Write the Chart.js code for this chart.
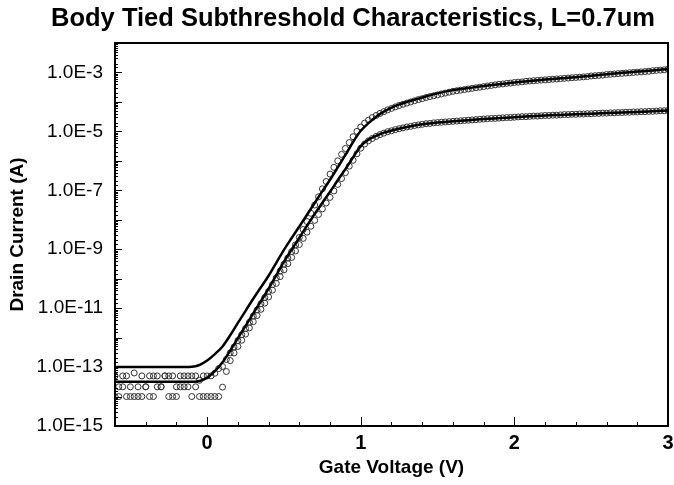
<!DOCTYPE html>
<html>
<head>
<meta charset="utf-8">
<title>Body Tied Subthreshold Characteristics</title>
<script src="https://cdn.jsdelivr.net/npm/chart.js@4.4.0/dist/chart.umd.min.js"></script>
<style>
  html, body { margin: 0; padding: 0; background: #fff; }
</style>
</head>
<body>
<canvas id="idvg" width="674" height="485"></canvas>
<script>
// gate voltage sweep of the measured points (V)
const vgMeasured = [
  -0.6, -0.575, -0.55, -0.525, -0.5, -0.475, -0.45, -0.425,
  -0.4, -0.375, -0.35, -0.325, -0.3, -0.275, -0.25, -0.225,
  -0.2, -0.175, -0.15, -0.125, -0.1, -0.075, -0.05, -0.025,
  0, 0.025, 0.05, 0.075, 0.1, 0.125, 0.15, 0.175,
  0.2, 0.225, 0.25, 0.275, 0.3, 0.325, 0.35, 0.375,
  0.4, 0.425, 0.45, 0.475, 0.5, 0.525, 0.55, 0.575,
  0.6, 0.625, 0.65, 0.675, 0.7, 0.725, 0.75, 0.775,
  0.8, 0.825, 0.85, 0.875, 0.9, 0.925, 0.95, 0.975,
  1.0, 1.025, 1.05, 1.075, 1.1, 1.125, 1.15, 1.175,
  1.2, 1.225, 1.25, 1.275, 1.3, 1.325, 1.35, 1.375,
  1.4, 1.425, 1.45, 1.475, 1.5, 1.525, 1.55, 1.575,
  1.6, 1.625, 1.65, 1.675, 1.7, 1.725, 1.75, 1.775,
  1.8, 1.825, 1.85, 1.875, 1.9, 1.925, 1.95, 1.975,
  2.0, 2.025, 2.05, 2.075, 2.1, 2.125, 2.15, 2.175,
  2.2, 2.225, 2.25, 2.275, 2.3, 2.325, 2.35, 2.375,
  2.4, 2.425, 2.45, 2.475, 2.5, 2.525, 2.55, 2.575,
  2.6, 2.625, 2.65, 2.675, 2.7, 2.725, 2.75, 2.775,
  2.8, 2.825, 2.85, 2.875, 2.9, 2.925, 2.95, 2.975,
  3.0
];

// measured drain current, log10(A) - high drain bias
const measHighLog = [
  -13.30, -13.67, -13.30, -13.30, -13.67, -13.20, -13.67, -13.30,
  -13.67, -13.30, -13.30, -13.30, -13.67, -13.30, -13.30, -13.30,
  -13.67, -13.30, -13.30, -13.67, -13.30, -13.67, -13.45, -13.30,
  -13.30, -13.30, -13.21, -13.05, -12.98, -12.74, -12.52, -12.32,
  -12.10, -11.90, -11.69, -11.48, -11.27, -11.06, -10.85, -10.64,
  -10.43, -10.20, -9.97, -9.74, -9.51, -9.30, -9.08, -8.85,
  -8.60, -8.33, -8.06, -7.78, -7.50, -7.22, -6.95, -6.70,
  -6.45, -6.22, -6.00, -5.78, -5.58, -5.38, -5.18, -5.00,
  -4.85, -4.72, -4.62, -4.53, -4.46, -4.39, -4.33, -4.27,
  -4.22, -4.17, -4.12, -4.08, -4.04, -4.00, -3.96, -3.92,
  -3.89, -3.85, -3.82, -3.79, -3.76, -3.73, -3.70, -3.67,
  -3.64, -3.62, -3.60, -3.58, -3.56, -3.54, -3.52, -3.50,
  -3.48, -3.46, -3.44, -3.42, -3.40, -3.39, -3.37, -3.36,
  -3.34, -3.33, -3.32, -3.30, -3.29, -3.28, -3.27, -3.26,
  -3.25, -3.24, -3.23, -3.22, -3.21, -3.20, -3.19, -3.18,
  -3.17, -3.16, -3.15, -3.14, -3.12, -3.11, -3.10, -3.09,
  -3.07, -3.06, -3.05, -3.04, -3.03, -3.02, -3.01, -3.00,
  -2.99, -2.98, -2.97, -2.96, -2.94, -2.93, -2.92, -2.91,
  -2.89
];

// measured drain current, log10(A) - low drain bias
const measLowLog = [
  -14.00, -14.00, -13.67, -14.00, -14.00, -14.00, -14.00, -14.00,
  -13.67, -14.00, -14.00, -13.67, -13.67, -13.30, -14.00, -14.00,
  -14.00, -13.67, -13.67, -13.30, -14.00, -13.30, -14.00, -14.00,
  -14.00, -14.00, -14.00, -14.00, -13.68, -13.15, -12.78, -12.52,
  -12.30, -12.09, -11.88, -11.67, -11.46, -11.25, -11.04, -10.83,
  -10.62, -10.39, -10.16, -9.93, -9.70, -9.49, -9.28, -9.06,
  -8.84, -8.63, -8.42, -8.22, -8.02, -7.82, -7.63, -7.43,
  -7.24, -7.02, -6.80, -6.60, -6.40, -6.18, -5.98, -5.76,
  -5.57, -5.43, -5.32, -5.24, -5.17, -5.11, -5.06, -5.01,
  -4.98, -4.94, -4.91, -4.88, -4.85, -4.83, -4.80, -4.78,
  -4.76, -4.74, -4.73, -4.71, -4.70, -4.69, -4.68, -4.67,
  -4.66, -4.65, -4.64, -4.63, -4.62, -4.61, -4.60, -4.59,
  -4.58, -4.57, -4.56, -4.56, -4.55, -4.54, -4.53, -4.53,
  -4.52, -4.51, -4.50, -4.50, -4.49, -4.48, -4.48, -4.47,
  -4.46, -4.46, -4.45, -4.45, -4.44, -4.43, -4.43, -4.42,
  -4.42, -4.41, -4.41, -4.40, -4.40, -4.39, -4.39, -4.38,
  -4.38, -4.37, -4.37, -4.36, -4.36, -4.35, -4.35, -4.34,
  -4.34, -4.33, -4.33, -4.32, -4.32, -4.31, -4.30, -4.30,
  -4.29
];

// simulated curves (solid lines)
const vgModel = [
  -0.6, -0.4, -0.2, -0.1, -0.05, 0,
  0.05, 0.1, 0.15, 0.2, 0.25, 0.3, 0.35, 0.4, 0.45, 0.5, 0.55, 0.6,
  0.65, 0.7, 0.75, 0.8, 0.85, 0.9, 0.95, 1.0, 1.05, 1.1, 1.15, 1.2,
  1.3, 1.4, 1.5, 1.6, 1.7, 1.8, 1.9, 2.0, 2.1,
  2.2, 2.3, 2.4, 2.5, 2.6, 2.7, 2.8, 2.9, 3.0
];
const modelHighLog = [
  -13.00, -13.00, -13.00, -12.99, -12.93, -12.78,
  -12.56, -12.30, -11.92, -11.50, -11.09, -10.68, -10.29, -9.90, -9.46, -9.02, -8.62, -8.23,
  -7.83, -7.43, -7.03, -6.64, -6.22, -5.80, -5.36, -4.98, -4.72, -4.50, -4.33, -4.19,
  -4.00, -3.85, -3.71, -3.60, -3.53, -3.46, -3.40, -3.34, -3.29,
  -3.24, -3.20, -3.16, -3.11, -3.06, -3.01, -2.97, -2.93, -2.88
];
const modelLowLog = [
  -13.50, -13.50, -13.50, -13.50, -13.47, -13.36,
  -13.14, -12.84, -12.44, -12.02, -11.60, -11.18, -10.76, -10.34, -9.88, -9.42, -9.01, -8.61,
  -8.20, -7.80, -7.42, -7.05, -6.66, -6.28, -5.88, -5.50, -5.28, -5.15, -5.04, -4.97,
  -4.85, -4.76, -4.70, -4.66, -4.62, -4.58, -4.55, -4.52, -4.49,
  -4.46, -4.44, -4.42, -4.40, -4.38, -4.36, -4.34, -4.32, -4.29
];

const chartTitle = 'Body Tied Subthreshold Characteristics, L=0.7um';
const xTitle = 'Gate Voltage (V)';
const yTitle = 'Drain Current (A)';

function toPoints(xs, logs) {
  return xs.map((v, i) => ({ x: v, y: Math.pow(10, logs[i]) }));
}

function isWhole(v) {
  return Math.abs(v - Math.round(v)) < 1e-6;
}

Chart.defaults.font.family = '"Liberation Sans", Arial, sans-serif';
Chart.defaults.color = '#000';

// frame around the plot plus inward tick marks (left and bottom only)
const frameTicks = {
  id: 'frameTicks',
  afterDatasetsDraw(chart) {
    const { ctx, chartArea: a, scales } = chart;
    ctx.save();
    ctx.strokeStyle = '#000';
    ctx.lineWidth = 1;
    ctx.beginPath();
    scales.y.ticks.forEach(t => {
      const len = isWhole(Math.log10(t.value)) ? 7 : 3;
      const py = Math.round(scales.y.getPixelForValue(t.value)) + 0.5;
      ctx.moveTo(a.left, py);
      ctx.lineTo(a.left + len, py);
    });
    scales.x.ticks.forEach(t => {
      const len = isWhole(t.value) ? 9 : 4;
      const px = Math.round(scales.x.getPixelForValue(t.value)) + 0.5;
      ctx.moveTo(px, a.bottom);
      ctx.lineTo(px, a.bottom - len);
    });
    ctx.stroke();
    ctx.lineWidth = 2;
    ctx.strokeRect(a.left, a.top, a.right - a.left, a.bottom - a.top);
    ctx.restore();
  }
};

// title centred a little right of the canvas middle, like the original
const plotTitle = {
  id: 'plotTitle',
  afterDraw(chart, args, opts) {
    const ctx = chart.ctx;
    ctx.save();
    ctx.font = 'bold 25.5px "Liberation Sans", Arial, sans-serif';
    ctx.fillStyle = '#000';
    ctx.textAlign = 'center';
    ctx.textBaseline = 'middle';
    ctx.fillText(opts.text, chart.width / 2 + opts.shift, opts.y);
    ctx.restore();
  }
};

const markerStyle = {
  showLine: false,
  pointStyle: 'circle',
  pointRadius: 3,
  pointBorderWidth: 1,
  pointBorderColor: '#333',
  pointBackgroundColor: 'rgba(255,255,255,0)',
  order: 2
};
const lineStyle = {
  showLine: true,
  borderColor: '#000',
  borderWidth: 2.5,
  pointRadius: 0,
  fill: false,
  cubicInterpolationMode: 'monotone',
  order: 0
};

new Chart(document.getElementById('idvg'), {
  type: 'scatter',
  data: {
    datasets: [
      Object.assign({ label: 'model high Vd', data: toPoints(vgModel, modelHighLog) }, lineStyle),
      Object.assign({ label: 'model low Vd', data: toPoints(vgModel, modelLowLog) }, lineStyle),
      Object.assign({ label: 'measured high Vd', data: toPoints(vgMeasured, measHighLog) }, markerStyle),
      Object.assign({ label: 'measured low Vd', data: toPoints(vgMeasured, measLowLog) }, markerStyle)
    ]
  },
  options: {
    responsive: false,
    animation: false,
    layout: { padding: { top: 43, right: 6, left: 0, bottom: 0 } },
    plugins: {
      legend: { display: false },
      tooltip: { enabled: false },
      plotTitle: { text: chartTitle, shift: 16, y: 19 }
    },
    scales: {
      x: {
        type: 'linear',
        min: -0.6,
        max: 3,
        grid: { display: false, drawTicks: false },
        border: { display: false },
        ticks: {
          stepSize: 0.2,
          autoSkip: false,
          maxRotation: 0,
          padding: 5,
          font: { size: 20, weight: 'bold' },
          callback: v => isWhole(v) ? String(Math.round(v)) : ''
        },
        title: {
          display: true,
          text: xTitle,
          font: { size: 19, weight: 'bold' },
          padding: { top: 0, bottom: 6 }
        },
        afterFit: s => {
          s.height = 59;
          s.paddingLeft = 0;
          s.paddingRight = 0;
        }
      },
      y: {
        type: 'logarithmic',
        min: 1e-15,
        max: 1e-2,
        grid: { display: false, drawTicks: false },
        border: { display: false },
        ticks: {
          autoSkip: false,
          padding: 12,
          font: { size: 19 },
          callback: v => {
            const e = Math.round(Math.log10(v));
            if (!isWhole(Math.log10(v)) || e % 2 === 0) return '';
            return '1.0E' + e;
          }
        },
        title: {
          display: true,
          text: yTitle,
          font: { size: 19, weight: 'bold' },
          padding: { top: 6, bottom: 2 }
        },
        afterFit: s => { s.width = 115; }
      }
    }
  },
  plugins: [frameTicks, plotTitle]
});
</script>
</body>
</html>
